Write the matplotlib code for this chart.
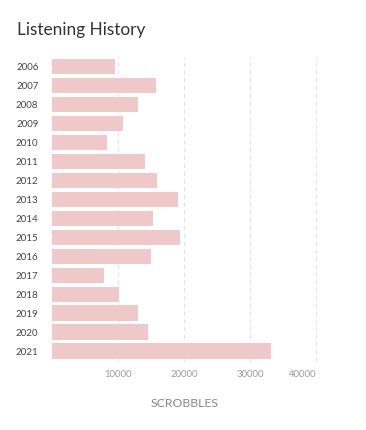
import matplotlib
matplotlib.use("Agg")
import matplotlib.pyplot as plt

years = ["2006", "2007", "2008", "2009", "2010", "2011", "2012", "2013",
         "2014", "2015", "2016", "2017", "2018", "2019", "2020", "2021"]
scrobbles = [9500, 15660, 12930, 10660, 8240, 14000, 15800, 19000,
             15200, 19300, 14900, 7780, 10060, 12930, 14450, 33090]
xticks = [10000, 20000, 30000, 40000]
xtick_labels = ["10000", "20000", "30000", "40000"]

plt.rcParams['font.family'] = ['Lato', 'DejaVu Sans']

fig = plt.figure(figsize=(3.66, 4.30), dpi=100)
ax = fig.add_axes([0.143, 0.159, 0.866 - 0.143, 0.868 - 0.159])

y = list(range(len(years)))
ax.barh(y, scrobbles, height=0.81, color='#efc9ca', zorder=2)
ax.set_ylim(len(years) - 0.45, -0.5)
ax.set_xlim(0, 40100)

ax.set_yticks(y)
ax.set_yticklabels(years, fontsize=7, color='#444444')
ax.set_xticks(xticks)
ax.set_xticklabels(xtick_labels, fontsize=6.8, color='#999999')
ax.get_xticklabels()[-1].set_horizontalalignment('right')
ax.tick_params(axis='y', length=0, pad=10)
ax.tick_params(axis='x', length=0, pad=6)

ax.grid(axis='x', color='#e2e2e2', linestyle=(0, (4, 3)), linewidth=0.8, zorder=1)
for s in ax.spines.values():
    s.set_visible(False)

ax.set_xlabel("SCROBBLES", fontsize=8.8, color='#888888', labelpad=14)
fig.text(17 / 366, 1 - 35 / 430, "Listening History", fontsize=12.4,
         color='#333333', ha='left', va='baseline')

fig.savefig("out.png", dpi=100)
